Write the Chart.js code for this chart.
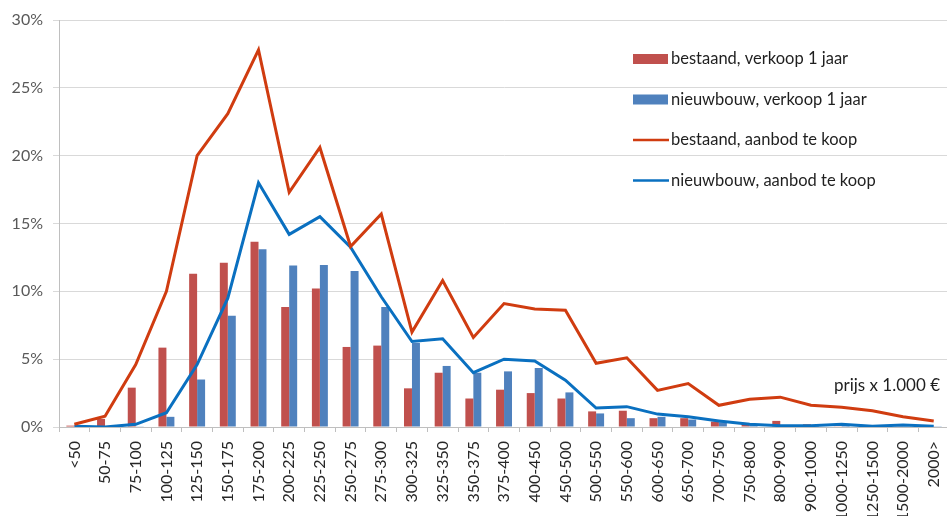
<!DOCTYPE html>
<html>
<head>
<meta charset="utf-8">
<script src="https://cdn.jsdelivr.net/npm/chart.js@4"></script>
<style>
  html, body { margin: 0; padding: 0; background: #fff; }
  #frame { width: 947px; height: 516px; overflow: hidden; position: relative; }
  #holder { width: 962px; height: 516px; position: relative; }
</style>
</head>
<body>
<div id="frame"><div id="holder"><canvas id="prijsChart"></canvas></div></div>
<script>
// Price classes (x 1.000 euro)
const categories = ['<50', '50-75', '75-100', '100-125', '125-150', '150-175', '175-200', '200-225',
    '225-250', '250-275', '275-300', '300-325', '325-350', '350-375', '375-400', '400-450', '450-500',
    '500-550', '550-600', '600-650', '650-700', '700-750', '750-800', '800-900', '900-1000',
    '1000-1250', '1250-1500', '1500-2000', '2000>'];

// Share per price class, in percent
const bestaandVerkoop = [0.1, 0.6, 2.9, 5.85, 11.3, 12.1, 13.65, 8.85, 10.2, 5.9, 6.0, 2.85, 4.0, 2.1,
    2.75, 2.5, 2.1, 1.15, 1.2, 0.65, 0.65, 0.4, 0.3, 0.45, 0.2, 0.05, 0.02, 0.02, 0.02];
const nieuwbouwVerkoop = [0, 0, 0.05, 0.75, 3.5, 8.2, 13.1, 11.9, 11.95, 11.5, 8.85, 6.2, 4.5, 4.0,
    4.1, 4.35, 2.55, 1.0, 0.65, 0.75, 0.55, 0.35, 0.15, 0.1, 0.15, 0.1, 0.05, 0.05, 0.02];
const bestaandAanbod = [0.2, 0.8, 4.6, 10.0, 20.0, 23.1, 27.8, 17.3, 20.6, 13.3, 15.7, 7.0, 10.8, 6.6,
    9.1, 8.7, 8.6, 4.7, 5.1, 2.7, 3.2, 1.6, 2.05, 2.2, 1.6, 1.45, 1.2, 0.75, 0.45];
const nieuwbouwAanbod = [0.05, 0.0, 0.2, 1.05, 4.6, 9.5, 18.0, 14.2, 15.5, 13.25, 9.6, 6.3, 6.5, 4.0,
    5.0, 4.87, 3.45, 1.4, 1.5, 0.95, 0.75, 0.45, 0.2, 0.1, 0.1, 0.2, 0.05, 0.15, 0.05];

const yTicks = [0, 5, 10, 15, 20, 25, 30];
const axisNote = 'prijs x 1.000 €';

const FONT = 'Lato, "Open Sans", sans-serif';

// Legend drawn inside the plot, one item per row
const insideLegend = {
    id: 'insideLegend',
    afterDraw(chart) {
        const ctx = chart.ctx;
        const area = chart.chartArea;
        const x0 = area.left + 574;
        const y0 = area.top + 39;
        ctx.save();
        ctx.font = '16.5px ' + FONT;
        ctx.textBaseline = 'middle';
        chart.data.datasets.slice().sort((a, b) => a.legendRank - b.legendRank).forEach((ds, i) => {
            const y = y0 + i * 40.5;
            if (ds.type === 'bar') {
                ctx.fillStyle = ds.backgroundColor;
                ctx.fillRect(x0, y - 5, 35, 10);
            } else {
                ctx.strokeStyle = ds.borderColor;
                ctx.lineWidth = 2.5;
                ctx.beginPath();
                ctx.moveTo(x0, y);
                ctx.lineTo(x0 + 36, y);
                ctx.stroke();
            }
            ctx.fillStyle = '#1f1f1f';
            ctx.textAlign = 'left';
            ctx.fillText(ds.label, x0 + 38, y);
        });
        // price unit note
        ctx.font = '17px ' + FONT;
        ctx.textAlign = 'right';
        ctx.fillText(axisNote, area.left + 881, area.top + 366);
        ctx.restore();
    }
};

const ctx = document.getElementById('prijsChart').getContext('2d');
new Chart(ctx, {
    data: {
        labels: categories,
        datasets: [
            {
                type: 'line',
                label: 'bestaand, aanbod te koop',
                data: bestaandAanbod,
                borderColor: '#d03c10',
                borderWidth: 3,
                pointRadius: 0,
                tension: 0,
                order: 0,
                legendRank: 2
            },
            {
                type: 'line',
                label: 'nieuwbouw, aanbod te koop',
                data: nieuwbouwAanbod,
                borderColor: '#0a70c0',
                borderWidth: 3,
                pointRadius: 0,
                tension: 0,
                order: 0,
                legendRank: 3
            },
            {
                type: 'bar',
                label: 'bestaand, verkoop 1 jaar',
                data: bestaandVerkoop,
                backgroundColor: '#c0504d',
                categoryPercentage: 0.52,
                barPercentage: 1.0,
                order: 1,
                legendRank: 0
            },
            {
                type: 'bar',
                label: 'nieuwbouw, verkoop 1 jaar',
                data: nieuwbouwVerkoop,
                backgroundColor: '#4f81bd',
                categoryPercentage: 0.52,
                barPercentage: 1.0,
                order: 2,
                legendRank: 1
            }
        ]
    },
    options: {
        responsive: true,
        maintainAspectRatio: false,
        animation: false,
        layout: { padding: { top: 20, left: 0, right: 4, bottom: 0 } },
        plugins: {
            legend: { display: false },
            tooltip: { enabled: false }
        },
        scales: {
            x: {
                type: 'category',
                offset: true,
                grid: { offset: true, drawOnChartArea: false, tickLength: 5, color: '#bfbfbf' },
                border: { color: '#bfbfbf' },
                ticks: {
                    autoSkip: false,
                    minRotation: 90,
                    maxRotation: 90,
                    padding: 9,
                    color: '#262626',
                    font: { family: FONT, size: 16 }
                },
                afterFit(scale) { scale.height = 89; }
            },
            y: {
                min: 0,
                max: 30,
                afterBuildTicks(scale) { scale.ticks = yTicks.map(v => ({ value: v })); },
                grid: { color: '#d9d9d9', tickLength: 6 },
                border: { color: '#bfbfbf' },
                ticks: {
                    padding: 10,
                    color: '#595959',
                    font: { family: FONT, size: 16 },
                    callback: v => v + '%'
                },
                afterFit(scale) { scale.width = 59; }
            }
        }
    },
    plugins: [insideLegend]
});
</script>
</body>
</html>
